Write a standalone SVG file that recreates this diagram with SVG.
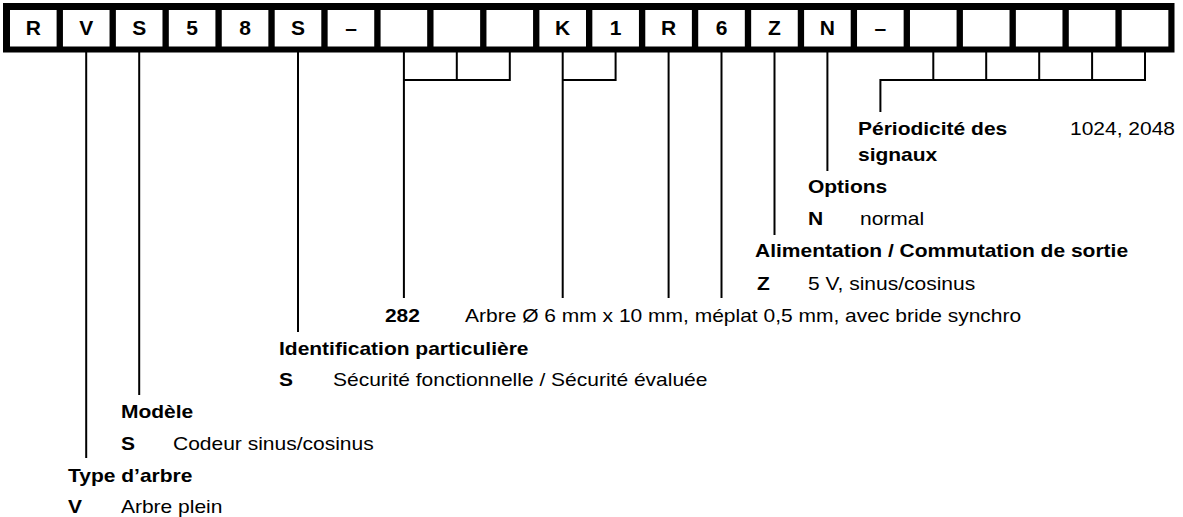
<svg xmlns="http://www.w3.org/2000/svg" width="1183" height="517" viewBox="0 0 1183 517">
<style>
.cell{fill:#fff}
.hd{font-family:"Liberation Sans",Arial,sans-serif;font-weight:bold;font-size:21px;fill:#000;text-anchor:middle}
.b{font-family:"Liberation Sans",Arial,sans-serif;font-weight:bold;font-size:17.5px;fill:#000}
.r{font-family:"Liberation Sans",Arial,sans-serif;font-size:17.5px;fill:#000}
.ln{stroke:#000;stroke-width:2;fill:none}
</style>
<rect width="1183" height="517" fill="#fff"/>
<g id="code-header">
<rect x="3" y="3" width="1171.5" height="49.5" fill="#000"/>
<rect class="cell" x="10" y="10" width="46.6" height="36.5"/>
<rect class="cell" x="62.94" y="10" width="46.6" height="36.5"/>
<rect class="cell" x="115.88" y="10" width="46.6" height="36.5"/>
<rect class="cell" x="168.82" y="10" width="46.6" height="36.5"/>
<rect class="cell" x="221.76" y="10" width="46.6" height="36.5"/>
<rect class="cell" x="274.7" y="10" width="46.6" height="36.5"/>
<rect class="cell" x="327.64" y="10" width="46.6" height="36.5"/>
<rect class="cell" x="380.58" y="10" width="46.6" height="36.5"/>
<rect class="cell" x="433.52" y="10" width="46.6" height="36.5"/>
<rect class="cell" x="486.46" y="10" width="46.6" height="36.5"/>
<rect class="cell" x="539.4" y="10" width="46.6" height="36.5"/>
<rect class="cell" x="592.34" y="10" width="46.6" height="36.5"/>
<rect class="cell" x="645.28" y="10" width="46.6" height="36.5"/>
<rect class="cell" x="698.22" y="10" width="46.6" height="36.5"/>
<rect class="cell" x="751.16" y="10" width="46.6" height="36.5"/>
<rect class="cell" x="804.1" y="10" width="46.6" height="36.5"/>
<rect class="cell" x="857.04" y="10" width="46.6" height="36.5"/>
<rect class="cell" x="909.98" y="10" width="46.6" height="36.5"/>
<rect class="cell" x="962.92" y="10" width="46.6" height="36.5"/>
<rect class="cell" x="1015.86" y="10" width="46.6" height="36.5"/>
<rect class="cell" x="1068.8" y="10" width="46.6" height="36.5"/>
<rect class="cell" x="1121.74" y="10" width="46.6" height="36.5"/>
<text class="hd" x="33.3" y="35">R</text>
<text class="hd" x="86.2" y="35">V</text>
<text class="hd" x="139.2" y="35">S</text>
<text class="hd" x="192.1" y="35">5</text>
<text class="hd" x="245.1" y="35">8</text>
<text class="hd" x="298" y="35">S</text>
<text class="hd" x="351" y="35">–</text>
<text class="hd" x="562.7" y="35">K</text>
<text class="hd" x="615.6" y="35">1</text>
<text class="hd" x="668.6" y="35">R</text>
<text class="hd" x="721.5" y="35">6</text>
<text class="hd" x="774.5" y="35">Z</text>
<text class="hd" x="827.4" y="35">N</text>
<text class="hd" x="880.4" y="35">–</text>
</g>
<g id="connectors">
<path class="ln" d="M86.2 52V458"/>
<path class="ln" d="M139.2 52V395"/>
<path class="ln" d="M298 52V332"/>
<path class="ln" d="M403.9 52V298M456.8 52V80M509.8 52V80M402.9 80H510.8"/>
<path class="ln" d="M562.7 52V298M615.6 52V80M561.7 80H616.6"/>
<path class="ln" d="M668.6 52V298"/>
<path class="ln" d="M721.5 52V298"/>
<path class="ln" d="M774.5 52V235"/>
<path class="ln" d="M827.4 52V171"/>
<path class="ln" d="M933.3 52V80M986.2 52V80M1039.2 52V80M1092.1 52V80M1145 52V80M879.4 80H1146M880.4 79V112"/>
</g>
<g transform="scale(1.2 1)">
<g id="periodicite">
<text class="b" x="715" y="135">Périodicité des</text>
<text class="b" x="715" y="161">signaux</text>
<text class="r" x="891.7" y="135">1024, 2048</text>
</g>
<g id="options">
<text class="b" x="673.3" y="193">Options</text>
<text class="b" x="673.3" y="225">N</text>
<text class="r" x="716.7" y="225">normal</text>
</g>
<g id="alimentation">
<text class="b" x="629.2" y="257">Alimentation / Commutation de sortie</text>
<text class="b" x="630.8" y="290">Z</text>
<text class="r" x="673.3" y="290">5 V, sinus/cosinus</text>
</g>
<g id="arbre-282">
<text class="b" x="320.8" y="322">282</text>
<text class="r" x="387.5" y="322">Arbre Ø 6 mm x 10 mm, méplat 0,5 mm, avec bride synchro</text>
</g>
<g id="identification">
<text class="b" x="232.5" y="355">Identification particulière</text>
<text class="b" x="232.5" y="386">S</text>
<text class="r" x="277.5" y="386">Sécurité fonctionnelle / Sécurité évaluée</text>
</g>
<g id="modele">
<text class="b" x="100.8" y="418">Modèle</text>
<text class="b" x="100.8" y="450">S</text>
<text class="r" x="144.2" y="450">Codeur sinus/cosinus</text>
</g>
<g id="type-arbre">
<text class="b" x="56.7" y="482">Type d’arbre</text>
<text class="b" x="56.7" y="513">V</text>
<text class="r" x="100.8" y="513">Arbre plein</text>
</g>
</g>
</svg>
